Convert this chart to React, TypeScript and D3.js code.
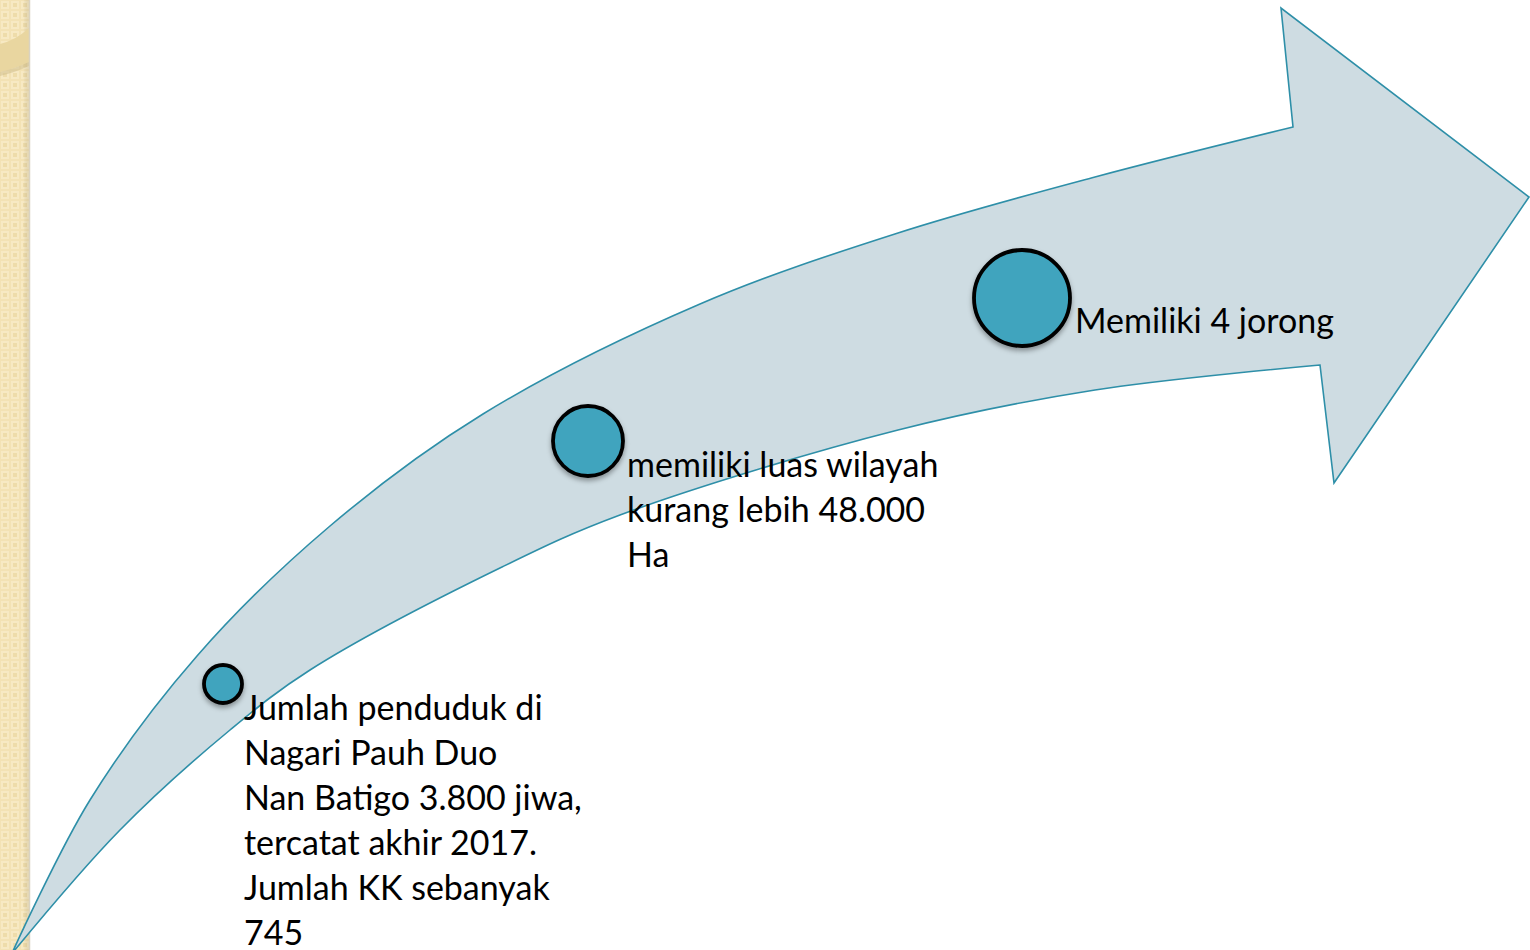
import React from "react";
import * as d3 from "d3";

// Arrow body edges
const upperEdge: [number, number][] = [
  [13, 951], [90, 800], [197, 656], [330, 526], [483, 414], [700, 304], [898, 233], [1095, 177], [1293, 127],
];
const lowerEdge: [number, number][] = [
  [14, 951], [120, 830], [230, 730], [310, 670], [502, 567], [620, 515], [898, 430], [1095, 390], [1320, 365],
];
// Arrow head: top corner, tip, bottom corner
const headPoints: [number, number][] = [
  [1281, 8], [1529, 197], [1334, 483],
];

// Milestones
const markerX = [223, 588, 1022];
const markerY = [684, 441, 298];
const markerR = [19, 35, 48];

const labels: string[][] = [
  ["Jumlah penduduk di", "Nagari Pauh Duo", "Nan Batigo 3.800 jiwa,", "tercatat akhir 2017.", "Jumlah KK sebanyak", "745"],
  ["memiliki luas wilayah", "kurang lebih 48.000", "Ha"],
  ["Memiliki 4 jorong"],
];
const labelX = [244, 627, 1075];
const labelY = [720, 477, 333];

const W = 1530;
const H = 950;

export default function App() {
  const lineGen = d3.line<[number, number]>().x(d => d[0]).y(d => d[1]).curve(d3.curveCatmullRom.alpha(0.5));
  const upper = lineGen(upperEdge) || "";
  const lowerRev = (lineGen([...lowerEdge].reverse()) || "").replace(/^M/, "L");
  const head = headPoints.map(p => `L${p[0]},${p[1]}`).join("");
  const arrowPath = upper + head + lowerRev + "Z";

  const lineH = 45;
  const font = "'Lato', 'Open Sans', sans-serif";

  return (
    <svg width={W} height={H} style={{ position: "fixed", left: 0, top: 0, background: "#fff" }}>
      <defs>
        <pattern id="chk" width="10" height="10" patternUnits="userSpaceOnUse">
          <rect width="10" height="10" fill="#F3E2B4" />
          <rect x="1" y="1" width="8" height="8" fill="#F7E9C3" />
          <rect x="3" y="3" width="4" height="4" fill="#EEDCAA" />
        </pattern>
        <filter id="shadow" x="-30%" y="-30%" width="160%" height="170%">
          <feDropShadow dx="0" dy="3" stdDeviation="2.5" floodColor="#000" floodOpacity="0.35" />
        </filter>
        <linearGradient id="stripShade" x1="0" x2="1" y1="0" y2="0">
          <stop offset="0" stopColor="#000" stopOpacity="0" />
          <stop offset="0.8" stopColor="#000" stopOpacity="0" />
          <stop offset="1" stopColor="#8a7a50" stopOpacity="0.15" />
        </linearGradient>
      </defs>

      {/* left decorative strip */}
      <rect x={0} y={0} width={29} height={H} fill="url(#chk)" />
      <rect x={0} y={0} width={29} height={H} fill="url(#stripShade)" />
      <path d="M0,44 Q16,40 29,28 L29,62 Q16,68 0,72 Z" fill="#E9D6A0" />
      <path d="M0,72 Q16,68 29,62 L29,66 Q16,72 0,76 Z" fill="#CDBB8A" opacity={0.5} />
      <line x1={29.5} x2={29.5} y1={0} y2={H} stroke="#D9D3C2" strokeWidth={1.5} />

      {/* arrow */}
      <path d={arrowPath} fill="#CEDCE2" stroke="#2E8FA8" strokeWidth={1.6} strokeLinejoin="miter" />

      {/* milestone circles */}
      {markerX.map((x, i) => (
        <circle key={i} cx={x} cy={markerY[i]} r={markerR[i]} fill="#3FA4BE" stroke="#000" strokeWidth={3.8} filter="url(#shadow)" />
      ))}

      {/* labels */}
      {labels.map((lines, i) => (
        <text key={i} x={labelX[i]} y={labelY[i]} fontFamily={font} fontSize={34} fill="#000">
          {lines.map((t, j) => (
            <tspan key={j} x={labelX[i]} y={labelY[i] + j * lineH}>{t}</tspan>
          ))}
        </text>
      ))}
    </svg>
  );
}
